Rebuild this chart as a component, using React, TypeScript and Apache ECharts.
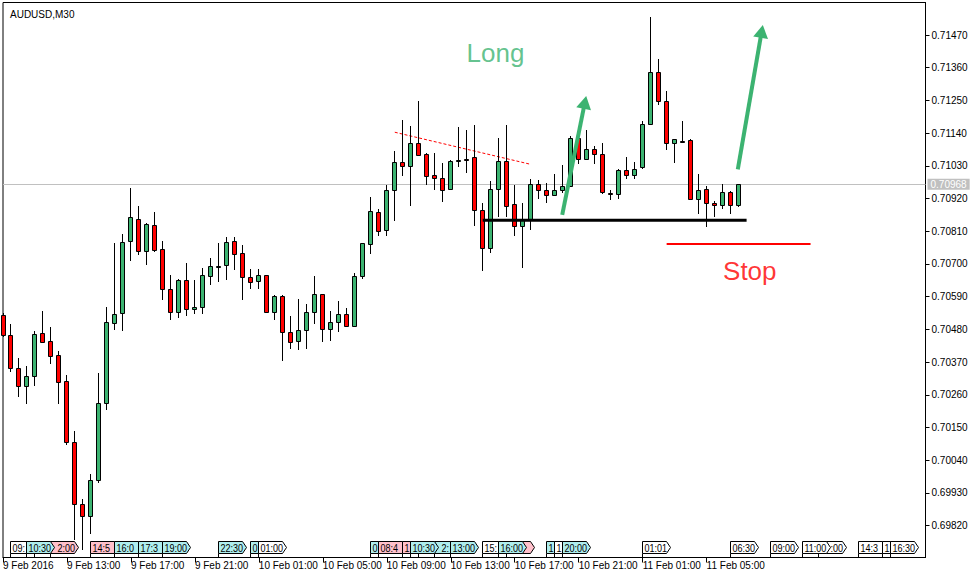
import { useEffect, useRef } from "react";
import * as echarts from "echarts";

const chartTitle = "AUDUSD,M30";

// 30-minute bars starting 9 Feb 2016 09:00
const opens = [
  0.70528, 0.7046, 0.70349, 0.70291, 0.70322, 0.70467, 0.7044, 0.70393, 0.70305, 0.701,
  0.69892, 0.69853, 0.69972, 0.70231, 0.705, 0.70534, 0.70776, 0.70852, 0.70743, 0.7083,
  0.70749, 0.70615, 0.70537, 0.70646, 0.70548, 0.70556, 0.70661, 0.70692, 0.70696, 0.70776,
  0.70736, 0.70655, 0.70642, 0.70662, 0.70537, 0.70591, 0.7047, 0.7044, 0.70477, 0.70537,
  0.70598, 0.7048, 0.70504, 0.70531, 0.70492, 0.70659, 0.70768, 0.70874, 0.70813, 0.70948,
  0.71042, 0.71028, 0.71106, 0.71069, 0.70998, 0.70988, 0.70951, 0.7105, 0.71052, 0.71059,
  0.7088, 0.70753, 0.70951, 0.71047, 0.70901, 0.70829, 0.7085, 0.70968, 0.70948, 0.70931,
  0.70948, 0.70961, 0.71123, 0.71052, 0.71086, 0.71069, 0.7094, 0.70936, 0.71015, 0.70998,
  0.71025, 0.7117, 0.71345, 0.71247, 0.71106, 0.71112, 0.71116, 0.70917, 0.70951, 0.70904,
  0.70897, 0.70941, 0.70897,
];
const highs = [
  0.70535, 0.70498, 0.70383, 0.70357, 0.70475, 0.70542, 0.70488, 0.70406, 0.70327, 0.70138,
  0.6991, 0.69993, 0.70333, 0.70555, 0.7077, 0.70801, 0.70954, 0.70895, 0.70837, 0.70874,
  0.70776, 0.70663, 0.70649, 0.70703, 0.70646, 0.70685, 0.70719, 0.7077, 0.70791, 0.70791,
  0.70763, 0.70683, 0.70683, 0.70664, 0.70595, 0.70594, 0.70524, 0.70581, 0.70564, 0.70659,
  0.70599, 0.70541, 0.70574, 0.70551, 0.70669, 0.70771, 0.70924, 0.70884, 0.70966, 0.71079,
  0.71183, 0.71163, 0.71247, 0.71072, 0.71072, 0.71039, 0.71049, 0.7116, 0.7115, 0.71166,
  0.70904, 0.70978, 0.71125, 0.71167, 0.70966, 0.70906, 0.70986, 0.70982, 0.70971, 0.71003,
  0.71033, 0.7113, 0.71151, 0.71151, 0.71096, 0.71106, 0.7095, 0.71019, 0.7106, 0.71043,
  0.7118, 0.71531, 0.71388, 0.71283, 0.71119, 0.71181, 0.71119, 0.71002, 0.70962, 0.70913,
  0.7097, 0.70944, 0.70969,
];
const lows = [
  0.70454, 0.70338, 0.70254, 0.7023, 0.70291, 0.70439, 0.70365, 0.7023, 0.70091, 0.69772,
  0.69738, 0.69791, 0.69964, 0.7021, 0.70479, 0.70476, 0.70711, 0.70731, 0.70698, 0.70741,
  0.7058, 0.70513, 0.70517, 0.70526, 0.70533, 0.70533, 0.7063, 0.7064, 0.70647, 0.70681,
  0.70578, 0.70617, 0.70617, 0.70536, 0.70513, 0.70375, 0.70415, 0.70412, 0.70415, 0.70497,
  0.70436, 0.7044, 0.7047, 0.70489, 0.7049, 0.7065, 0.70735, 0.70795, 0.70795, 0.70846,
  0.70997, 0.70896, 0.71064, 0.70967, 0.7095, 0.70909, 0.7095, 0.71027, 0.71007, 0.70829,
  0.70677, 0.70738, 0.70859, 0.70859, 0.70795, 0.70687, 0.70814, 0.70919, 0.70906, 0.70931,
  0.7094, 0.70959, 0.71035, 0.71052, 0.71037, 0.70936, 0.70916, 0.7092, 0.70987, 0.70987,
  0.71018, 0.71166, 0.71234, 0.71084, 0.7104, 0.71106, 0.70917, 0.70869, 0.70825, 0.70859,
  0.70886, 0.70869, 0.7089,
];
const closes = [
  0.7046, 0.70349, 0.70291, 0.70322, 0.70463, 0.70439, 0.70392, 0.70302, 0.70102, 0.69892,
  0.69851, 0.69972, 0.70231, 0.70504, 0.70531, 0.70773, 0.70857, 0.70743, 0.70834, 0.70748,
  0.70615, 0.70537, 0.70646, 0.70548, 0.70555, 0.70662, 0.70692, 0.70694, 0.70773, 0.70733,
  0.70655, 0.70638, 0.70662, 0.70539, 0.70591, 0.70472, 0.70439, 0.70477, 0.70537, 0.70598,
  0.70482, 0.70504, 0.70531, 0.70492, 0.70659, 0.7077, 0.70877, 0.70812, 0.70948, 0.71042,
  0.71028, 0.71106, 0.71067, 0.70997, 0.70988, 0.70948, 0.71045, 0.71051, 0.71051, 0.7088,
  0.70753, 0.70951, 0.71045, 0.70896, 0.70829, 0.7085, 0.70969, 0.70948, 0.70931, 0.70948,
  0.70961, 0.71123, 0.71052, 0.71086, 0.71069, 0.70943, 0.70939, 0.71015, 0.70998, 0.71018,
  0.7117, 0.71345, 0.71247, 0.71106, 0.71119, 0.71113, 0.70917, 0.70948, 0.70904, 0.70897,
  0.70941, 0.70899, 0.70968,
];

const timeLabelBars = [0, 8, 16, 24, 32, 40, 48, 56, 64, 72, 80, 88];
const timeLabels = [
  "9 Feb 2016", "9 Feb 13:00", "9 Feb 17:00", "9 Feb 21:00", "10 Feb 01:00", "10 Feb 05:00",
  "10 Feb 09:00", "10 Feb 13:00", "10 Feb 17:00", "10 Feb 21:00", "11 Feb 01:00", "11 Feb 05:00",
];
const priceTicks = [
  0.6982, 0.6993, 0.7004, 0.7015, 0.7026, 0.7037, 0.7048, 0.7059, 0.707, 0.7081, 0.7092,
  0.7103, 0.7114, 0.7125, 0.7136, 0.7147,
];

const bidPrice = 0.70968;
const supportLine = [[60, 0.70847], [93, 0.70847]];
const stopLine = [[83, 0.70767], [101, 0.70767]];
const trendLine = [[49, 0.71143], [66, 0.71035]];
// [start, tip]
const longArrows = [
  [[69.94, 0.70865], [72.94, 0.71265]],
  [[91.9, 0.71018], [95.03, 0.71504]],
];
const noteLong = { text: "Long", bar: 61.6, price: 0.71409 };
const noteStop = { text: "Stop", bar: 93.4, price: 0.70676 };

// calendar events [bar, time, importance], in drawing order ("" = hidden label)
const calendarEvents: [number, string, string][] = [
  [1, "09:30", "low"],
  [4, "", "low"],
  [6, "12:00", "high"],
  [3, "10:30", "medium"],
  [11, "14:55", "high"],
  [14, "16:00", "medium"],
  [17, "17:30", "medium"],
  [20, "19:00", "medium"],
  [27, "22:30", "medium"],
  [31, "00:30", "medium"],
  [32, "01:00", "low"],
  [46, "08:00", "medium"],
  [47, "08:45", "high"],
  [50, "10:00", "high"],
  [52, "", "low"],
  [54, "12:00", "medium"],
  [51, "10:30", "medium"],
  [56, "13:00", "medium"],
  [60, "15:00", "low"],
  [63, "", "high"],
  [62, "16:00", "medium"],
  [68, "19:00", "medium"],
  [69, "19:30", "low"],
  [70, "20:00", "medium"],
  [80, "01:01", "low"],
  [91, "06:30", "low"],
  [96, "09:00", "low"],
  [102, "12:00", "low"],
  [100, "11:00", "low"],
  [107, "14:30", "low"],
  [110, "16:00", "low"],
  [111, "16:30", "low"],
];

const FONT = '"Liberation Sans", Arial, sans-serif';
const GREEN = "#3cb371";
const RED = "#ff0000";
const CYAN = "#afeeee";
const PINK = "#ffc0cb";
const Y_MIN = 0.697128;
const Y_MAX = 0.715793;
const X_MAX = 115.375;
const BOX_W = 24;
const BOX_TIP = 4;
const BOX_H = 12;
const BOX_FONT_PX = 11;
const BOX_SCALE = 0.82;

export default function App() {
  const ref = useRef<HTMLDivElement>(null);

  useEffect(() => {
    document.body.style.margin = "0";
    document.body.style.overflow = "hidden";
    if (!ref.current) return;
    const chart = echarts.init(ref.current, undefined, { renderer: "svg" });

    const measureCtx = document.createElement("canvas").getContext("2d");
    const boxFont = `${BOX_FONT_PX}px "Liberation Sans", Arial, sans-serif`;
    if (measureCtx) measureCtx.font = boxFont;
    const charW = (ch: string) =>
      (measureCtx ? measureCtx.measureText(ch).width : BOX_FONT_PX * 0.556) * BOX_SCALE;

    const candleData = opens.map((o, i) => [i, o, closes[i], lows[i], highs[i]]);

    const option: any = {
      animation: false,
      backgroundColor: "#ffffff",
      title: {
        text: chartTitle,
        left: 5,
        top: 4,
        textStyle: { fontSize: 10, fontWeight: "normal", color: "#000", fontFamily: FONT },
      },
      grid: {
        left: 2.5,
        top: 2.5,
        right: 52.5,
        bottom: 20.5,
        show: true,
        borderColor: "#000",
        borderWidth: 1,
        backgroundColor: "transparent",
      },
      xAxis: {
        type: "value",
        min: 0,
        max: X_MAX,
        axisLine: { show: true, onZero: false, lineStyle: { color: "#000", width: 1 } },
        axisTick: { show: true, customValues: timeLabelBars, length: 5, lineStyle: { color: "#000" } },
        axisLabel: {
          customValues: timeLabelBars,
          formatter: (v: number) => {
            const k = timeLabelBars.indexOf(Math.round(v));
            return k >= 0 ? timeLabels[k] : "";
          },
          align: "left",
          margin: 3,
          fontSize: 10,
          color: "#000",
          fontFamily: FONT,
        },
        splitLine: { show: false },
      },
      yAxis: {
        type: "value",
        position: "right",
        min: Y_MIN,
        max: Y_MAX,
        axisLine: { show: true, onZero: false, lineStyle: { color: "#000", width: 1 } },
        axisTick: { show: true, customValues: priceTicks, length: 4, lineStyle: { color: "#000" } },
        axisLabel: {
          customValues: priceTicks,
          formatter: (v: number) => v.toFixed(5),
          margin: 6,
          fontSize: 10,
          color: "#000",
          fontFamily: FONT,
        },
        splitLine: { show: false },
      },
      series: [
        {
          type: "line",
          name: "trend",
          data: trendLine,
          symbol: "none",
          silent: true,
          z: 1,
          lineStyle: { color: RED, width: 1, type: [3, 2] },
          markLine: {
            silent: true,
            z: 1,
            precision: 5,
            symbol: ["none", "none"],
            lineStyle: { color: "#c0c0c0", width: 1, type: "solid" },
            label: {
              show: true,
              position: "end",
              distance: 2,
              formatter: bidPrice.toFixed(5),
              color: "#fff",
              backgroundColor: "#c0c0c0",
              padding: [1, 3, 0, 3],
              fontSize: 10,
              lineHeight: 10,
              fontFamily: FONT,
            },
            data: [{ yAxis: bidPrice }],
          },
        },
        {
          type: "custom",
          name: "AUDUSD",
          data: candleData,
          encode: { x: 0, y: [1, 2, 3, 4] },
          silent: true,
          z: 3,
          renderItem: (_params: any, api: any) => {
            const i = api.value(0);
            const o = api.value(1);
            const c = api.value(2);
            const l = api.value(3);
            const h = api.value(4);
            const pO = api.coord([i, o]);
            const pC = api.coord([i, c]);
            const pL = api.coord([i, l]);
            const pH = api.coord([i, h]);
            const cx = Math.floor(pO[0]) + 0.5;
            const yO = Math.round(pO[1]);
            const yC = Math.round(pC[1]);
            const top = Math.min(yO, yC);
            let bot = Math.max(yO, yC);
            if (bot - top < 1) bot = top + 1;
            const fill = c > o ? GREEN : c < o ? RED : "#000";
            return {
              type: "group",
              children: [
                {
                  type: "line",
                  shape: { x1: cx, y1: Math.round(pH[1]), x2: cx, y2: Math.round(pL[1]) },
                  style: { stroke: "#000", lineWidth: 1 },
                },
                {
                  type: "rect",
                  shape: { x: cx - 2, y: top + 0.5, width: 4, height: bot - top },
                  style: { fill, stroke: "#000", lineWidth: 1 },
                },
              ],
            };
          },
        },
        {
          type: "line",
          name: "support",
          data: supportLine,
          symbol: "none",
          silent: true,
          z: 4,
          lineStyle: { color: "#000", width: 3 },
        },
        {
          type: "line",
          name: "stop",
          data: stopLine,
          symbol: "none",
          silent: true,
          z: 4,
          lineStyle: { color: RED, width: 2 },
        },
        {
          type: "custom",
          name: "long arrows",
          silent: true,
          z: 7,
          clip: false,
          data: longArrows.map((a) => [a[0][0], a[0][1], a[1][0], a[1][1]]),
          encode: { x: [0, 2], y: [1, 3] },
          renderItem: (_params: any, api: any) => {
            const p1 = api.coord([api.value(0), api.value(1)]);
            const p2 = api.coord([api.value(2), api.value(3)]);
            const dx = p2[0] - p1[0];
            const dy = p2[1] - p1[1];
            const len = Math.hypot(dx, dy) || 1;
            const ux = dx / len;
            const uy = dy / len;
            const nx = -uy;
            const ny = ux;
            const HL = 13;
            const HW = 7.5;
            const bx = p2[0] - ux * HL;
            const by = p2[1] - uy * HL;
            return {
              type: "group",
              children: [
                {
                  type: "line",
                  shape: { x1: p1[0], y1: p1[1], x2: bx + ux, y2: by + uy },
                  style: { stroke: GREEN, lineWidth: 4 },
                },
                {
                  type: "polygon",
                  shape: {
                    points: [
                      [p2[0], p2[1]],
                      [bx + nx * HW, by + ny * HW],
                      [bx - nx * HW, by - ny * HW],
                    ],
                  },
                  style: { fill: GREEN },
                },
              ],
            };
          },
        },
        {
          type: "scatter",
          name: "notes",
          silent: true,
          z: 5,
          symbolSize: 1,
          itemStyle: { color: "rgba(0,0,0,0)" },
          data: [
            {
              value: [noteLong.bar, noteLong.price],
              label: { show: true, position: "inside", formatter: noteLong.text, color: GREEN, fontSize: 26, fontFamily: FONT },
            },
            {
              value: [noteStop.bar, noteStop.price],
              label: { show: true, position: "inside", formatter: noteStop.text, color: RED, fontSize: 26, fontFamily: FONT },
            },
          ],
        },
        {
          type: "custom",
          name: "calendar",
          silent: true,
          z: 6,
          clip: false,
          data: calendarEvents.map((e) => [e[0], Y_MIN]),
          encode: { x: 0, y: 1 },
          renderItem: (params: any, api: any) => {
            const k = params.dataIndex;
            const ev = calendarEvents[k];
            const cs = params.coordSys;
            const bottom = cs.y + cs.height;
            const px = (bar: number) => Math.floor(api.coord([bar, Y_MIN])[0]) + 0.5;
            const x = px(ev[0]);
            const t = bottom - 16;
            const fill = ev[2] === "high" ? PINK : ev[2] === "medium" ? CYAN : "#ffffff";

            // visible span of this label: boxes drawn later cover it
            let visStart = x + 2;
            let visEnd = Infinity;
            for (let j = k + 1; j < calendarEvents.length; j++) {
              const xj = px(calendarEvents[j][0]);
              if (xj > x) visEnd = Math.min(visEnd, xj - 0.5);
              else visStart = Math.max(visStart, xj + BOX_W + BOX_TIP - 1);
            }
            let cursor = x + 2;
            let textX = -1;
            let shown = "";
            for (const ch of ev[1]) {
              const w = charW(ch);
              const s = cursor;
              const e = cursor + w;
              cursor = e;
              if (s < visStart) continue;
              if (e > visEnd) break;
              if (textX < 0) textX = s;
              shown += ch;
            }

            const children: any[] = [
              {
                type: "line",
                shape: { x1: x, y1: t + BOX_H, x2: x, y2: bottom },
                style: { stroke: "#000", lineWidth: 1 },
              },
              {
                type: "polygon",
                shape: {
                  points: [
                    [x, t],
                    [x + BOX_W, t],
                    [x + BOX_W + BOX_TIP, t + BOX_H / 2],
                    [x + BOX_W, t + BOX_H],
                    [x, t + BOX_H],
                  ],
                },
                style: { fill, stroke: "#000", lineWidth: 1 },
              },
            ];
            if (shown) {
              children.push({
                type: "text",
                x: textX,
                y: t + BOX_H / 2 + 0.5,
                scaleX: BOX_SCALE,
                style: {
                  text: shown,
                  x: 0,
                  y: 0,
                  fill: "#000",
                  font: boxFont,
                  verticalAlign: "middle",
                  align: "left",
                },
              });
            }
            return { type: "group", children };
          },
        },
      ],
    };

    chart.setOption(option);
    return () => chart.dispose();
  }, []);

  return <div ref={ref} style={{ width: 978, height: 578 }} />;
}
